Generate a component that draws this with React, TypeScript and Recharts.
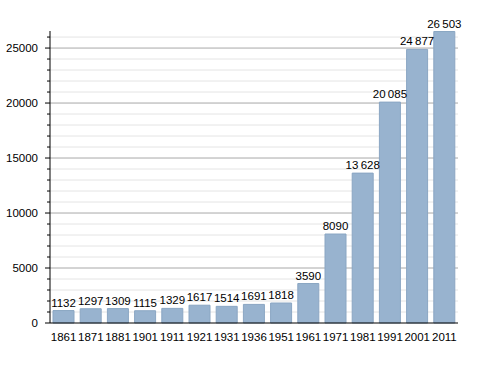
import { BarChart, Bar, XAxis, YAxis, CartesianGrid, LabelList } from "recharts";

const years = ["1861", "1871", "1881", "1901", "1911", "1921", "1931", "1936", "1951", "1961", "1971", "1981", "1991", "2001", "2011"];
const population = [1132, 1297, 1309, 1115, 1329, 1617, 1514, 1691, 1818, 3590, 8090, 13628, 20085, 24877, 26503];
const majorTicks = [0, 5000, 10000, 15000, 20000, 25000];
const minorTicks = [
  1000, 2000, 3000, 4000, 6000, 7000, 8000, 9000, 11000, 12000, 13000, 14000,
  16000, 17000, 18000, 19000, 21000, 22000, 23000, 24000, 26000,
];

const data = years.map((year, i) => ({ year, value: population[i] }));
const allTicks = [...majorTicks, ...minorTicks].sort((a, b) => a - b);

const font = "'Liberation Sans', Arial, sans-serif";

const fmt = (v: number) =>
  v >= 10000 ? String(v).replace(/\B(?=(\d{3})+(?!\d))/g, "\u2009") : String(v);

function YTick({ x, y, payload }: any) {
  const major = payload.value % 5000 === 0;
  return (
    <g>
      <line x1={x - (major ? 5 : 3)} x2={x} y1={y} y2={y} stroke="#000" strokeWidth={1} />
      {major && (
        <text x={x - 12} y={y} dy={4} textAnchor="end" fontSize={11.5} fill="#000" fontFamily={font}>
          {payload.value}
        </text>
      )}
    </g>
  );
}

export default function App() {
  return (
    <div style={{ position: "absolute", left: 0, top: 0, background: "#fff" }}>
      <BarChart
        width={488}
        height={373}
        data={data}
        margin={{ top: 31, right: 30, left: 0, bottom: 20 }}
        barCategoryGap={3}
      >
        <CartesianGrid vertical={false} horizontalValues={minorTicks} stroke="#e4e4e4" />
        <CartesianGrid vertical={false} horizontalValues={majorTicks.slice(1)} stroke="#a8a8a8" />
        <XAxis
          dataKey="year"
          height={30}
          tickLine={false}
          axisLine={{ stroke: "#000" }}
          interval={0}
          tickMargin={4}
          tick={{ fontSize: 11.5, fill: "#000", fontFamily: font }}
        />
        <YAxis
          width={50}
          domain={[0, 26550]}
          ticks={allTicks}
          interval={0}
          tickSize={0}
          tickMargin={0}
          tickLine={false}
          axisLine={{ stroke: "#000" }}
          tick={<YTick />}
        />
        <Bar dataKey="value" fill="#98b3cf" stroke="#8aa6c3" isAnimationActive={false}>
          <LabelList
            dataKey="value"
            position="top"
            offset={4}
            formatter={(v: any) => fmt(Number(v))}
            style={{ fontSize: 11.5, fill: "#000", fontFamily: font }}
          />
        </Bar>
      </BarChart>
    </div>
  );
}
